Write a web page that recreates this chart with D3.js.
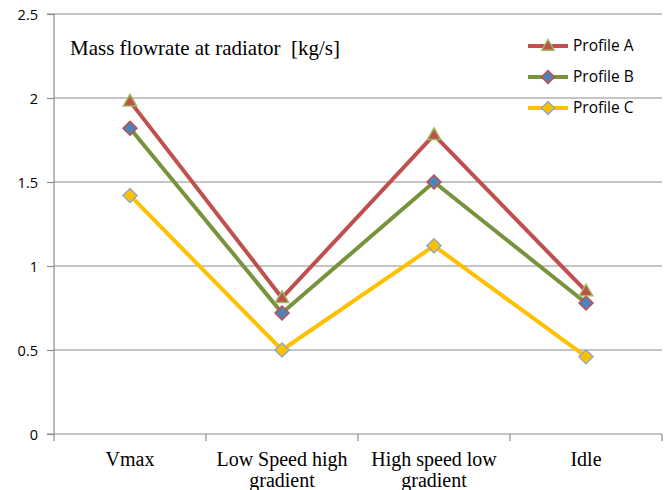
<!DOCTYPE html>
<html><head><meta charset="utf-8">
<script src="https://cdn.jsdelivr.net/npm/d3@7"></script>
<style>
html,body{margin:0;padding:0;background:#fff;}
svg{display:block;}
</style></head>
<body>
<svg id="chart" width="664" height="490"></svg>
<script>
// Operating conditions on the x axis (label lines split by "\n")
const categories = ["Vmax", "Low Speed high\ngradient", "High speed low\ngradient", "Idle"];
// Mass flow rate at the radiator, kg/s
const profileA = [1.98, 0.81, 1.78, 0.85];
const profileB = [1.82, 0.72, 1.50, 0.78];
const profileC = [1.42, 0.50, 1.12, 0.46];
const seriesNames = ["Profile A", "Profile B", "Profile C"];
const yTicks = [0, 0.5, 1, 1.5, 2, 2.5];
const yTickLabels = ["0", "0.5", "1", "1.5", "2", "2.5"];

const styles = [
  {line: "#C0504D", fill: "#C0504D", stroke: "#9BBB59", shape: "triangle"},
  {line: "#77933C", fill: "#4F81BD", stroke: "#C0504D", shape: "diamond"},
  {line: "#FFC000", fill: "#FFC000", stroke: "#8EA9C8", shape: "diamond"}
];
const series = [profileA, profileB, profileC].map((v, i) => ({name: seriesNames[i], values: v, style: styles[i]}));

const svg = d3.select("#chart");
const plotLeft = 54, plotRight = 662, plotTop = 14, plotBottom = 434;

const x = d3.scaleBand().domain(categories).range([plotLeft, plotRight]).padding(0);
const y = d3.scaleLinear().domain([0, 2.5]).range([plotBottom, plotTop]);

// Horizontal gridlines
svg.append("g").selectAll("line").data(yTicks.filter(d => d > 0)).join("line")
  .attr("x1", plotLeft).attr("x2", plotRight)
  .attr("y1", d => y(d)).attr("y2", d => y(d))
  .attr("stroke", "#8c8c8c").attr("stroke-width", 1.2);

// Y axis
const yAxis = d3.axisLeft(y).tickValues(yTicks).tickSize(7)
  .tickFormat((d, i) => yTickLabels[i]);
const gy = svg.append("g").attr("transform", `translate(${plotLeft},0)`).call(yAxis);
gy.select(".domain").attr("stroke", "#8c8c8c").attr("stroke-width", 1.2).attr("d", `M-7,${plotTop}H0V${plotBottom}`);
gy.selectAll(".tick line").attr("stroke", "#8c8c8c").attr("stroke-width", 1.2);
gy.selectAll(".tick text").attr("font-family", "'Open Sans', 'Liberation Sans', sans-serif")
  .attr("font-size", 14.5).attr("fill", "#000").attr("x", -16).attr("dy", "0.36em");

// X axis: baseline with ticks at band edges
const gx = svg.append("g");
gx.append("line").attr("x1", plotLeft - 7).attr("x2", plotRight).attr("y1", plotBottom).attr("y2", plotBottom)
  .attr("stroke", "#8c8c8c").attr("stroke-width", 1.2);
const edges = categories.map(c => x(c)).concat([x(categories[categories.length - 1]) + x.bandwidth()]);
gx.selectAll("line.edge").data(edges).join("line").attr("class", "edge")
  .attr("x1", d => d).attr("x2", d => d).attr("y1", plotBottom).attr("y2", plotBottom + 7)
  .attr("stroke", "#8c8c8c").attr("stroke-width", 1.2);
gx.selectAll("text").data(categories).join("text")
  .attr("x", d => x(d) + x.bandwidth() / 2)
  .attr("y", 466)
  .attr("text-anchor", "middle")
  .attr("font-family", "'Liberation Serif', 'Times New Roman', serif")
  .attr("font-size", 20).attr("fill", "#000")
  .each(function(d) {
    const t = d3.select(this);
    d.split("\n").forEach((s, i) => t.append("tspan").attr("x", x(d) + x.bandwidth() / 2).attr("dy", i ? 21 : 0).text(s));
  });

// Chart title inside the plot
svg.append("text").attr("x", 70).attr("y", 55)
  .style("white-space", "pre")
  .attr("font-family", "'Liberation Serif', 'Times New Roman', serif")
  .attr("font-size", 21).attr("fill", "#000")
  .text("Mass flowrate at radiator  [kg/s]");

function marker(g, shape, st, size) {
  if (shape === "triangle") {
    const s = size;
    g.append("path").attr("d", `M0,${-s}L${s * 0.95},${s * 0.65}L${-s * 0.95},${s * 0.65}Z`)
      .attr("fill", st.fill).attr("stroke", st.stroke).attr("stroke-width", 1.5);
  } else {
    const s = size;
    g.append("path").attr("d", `M0,${-s}L${s},0L0,${s}L${-s},0Z`)
      .attr("fill", st.fill).attr("stroke", st.stroke).attr("stroke-width", 1.5);
  }
}

const line = d3.line().x((d, i) => x(categories[i]) + x.bandwidth() / 2).y(d => y(d));

// Lines and markers, drawn C first so A sits on top
[...series].reverse().forEach(s => {
  svg.append("path").datum(s.values).attr("d", line)
    .attr("fill", "none").attr("stroke", s.style.line).attr("stroke-width", 4)
    .attr("stroke-linejoin", "round");
});
[...series].reverse().forEach(s => {
  s.values.forEach((v, i) => {
    const g = svg.append("g").attr("transform", `translate(${x(categories[i]) + x.bandwidth() / 2},${y(v)})`);
    marker(g, s.style.shape, s.style, 7);
  });
});

// Legend
const legend = svg.append("g");
series.forEach((s, i) => {
  const ly = 46 + i * 31;
  const g = legend.append("g").attr("transform", `translate(528,${ly})`);
  g.append("line").attr("x1", 0).attr("x2", 40).attr("stroke", s.style.line).attr("stroke-width", 4);
  const m = g.append("g").attr("transform", "translate(20,0)");
  marker(m, s.style.shape, s.style, 6.5);
  g.append("text").attr("x", 45).attr("y", 0).attr("dy", "0.35em")
    .attr("font-family", "'Open Sans', 'Liberation Sans', sans-serif")
    .attr("font-size", 15.5).attr("fill", "#000").text(s.name);
});
</script>
</body></html>
